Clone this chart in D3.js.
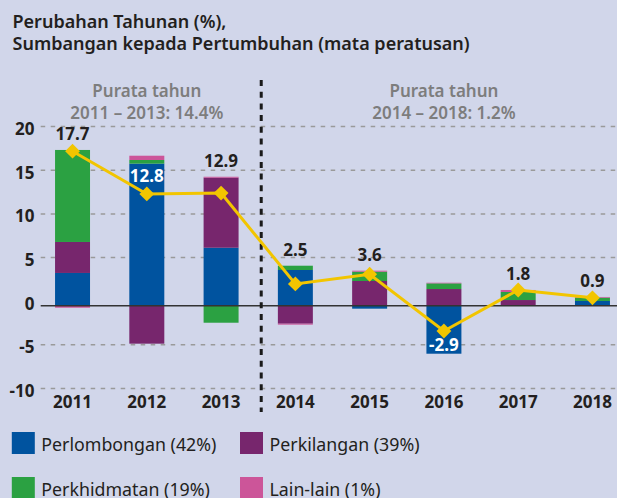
<!DOCTYPE html>
<html>
<head>
<meta charset="utf-8">
<script src="https://cdn.jsdelivr.net/npm/d3@7"></script>
<style>
  html, body { margin: 0; padding: 0; background: #d1d6ea; }
  svg { display: block; font-family: "Noto Sans", sans-serif; }
</style>
</head>
<body>
<div id="chart"></div>
<script>
// data section
const years = ['2011', '2012', '2013', '2014', '2015', '2016', '2017', '2018'];
const perlombongan = [3.75, 16.27, 6.64, 4.09, -0.34, -5.5, 0, 0.54];
const perkilangan = [3.55, -4.35, 8.02, -2.06, 2.83, 1.91, 0.65, 0];
const perkhidmatan = [10.54, 0.42, -1.95, 0.49, 1.07, 0.65, 0.92, 0.38];
const lainLain = [-0.23, 0.49, 0.11, -0.11, 0.11, 0.07, 0.23, 0.08];
const growth = [17.7, 12.8, 12.9, 2.5, 3.6, -2.9, 1.8, 0.9];
const growthText = ['17.7', '12.8', '12.9', '2.5', '3.6', '-2.9', '1.8', '0.9'];
const whiteLabels = ['2012', '2016'];
const yTicks = [20, 15, 10, 5, 0, -5, -10];
const seriesKeys = ['perlombongan', 'perkilangan', 'perkhidmatan', 'lainLain'];
const seriesNames = ['Perlombongan (42%)', 'Perkilangan (39%)', 'Perkhidmatan (19%)', 'Lain-lain (1%)'];
const seriesColors = ['#00539f', '#77266d', '#2ba142', '#cc5599'];
const periodTitles = [['Purata tahun', '2011 \u2013 2013: 14.4%'], ['Purata tahun', '2014 \u2013 2018: 1.2%']];
const periodYears = [['2011', '2013'], ['2014', '2018']];

const width = 617;
const height = 498;

const rows = years.map((y, i) => ({
    year: y,
    perlombongan: perlombongan[i],
    perkilangan: perkilangan[i],
    perkhidmatan: perkhidmatan[i],
    lainLain: lainLain[i]
}));

// scales
const x = d3.scaleBand()
      .domain(years)
      .range([35.4, 629.6])
      .paddingInner(0.529)
      .paddingOuter(0.2645);

const y = d3.scaleLinear()
      .domain([-10, 20])
      .range([393, 131.1]);

const color = d3.scaleOrdinal().domain(seriesKeys).range(seriesColors);

const stack = d3.stack()
      .keys(seriesKeys)
      .offset(d3.stackOffsetDiverging);
const stacked = stack(rows);

const svg = d3.select('#chart')
      .append('svg')
      .attr('width', width)
      .attr('height', height)
      .attr('viewBox', [0, 0, width, height]);

// title
const title = svg.append('text')
      .attr('x', 12.5)
      .attr('fill', '#231f20')
      .attr('font-size', 18)
      .attr('font-weight', 600);
title.append('tspan').attr('x', 12.5).attr('y', 28).text('Perubahan Tahunan (%),');
title.append('tspan').attr('x', 12.5).attr('y', 50).text('Sumbangan kepada Pertumbuhan (mata peratusan)');

// grid (the dashed lines sit a few px above their values in the original)
const gridShift = -4.5;
svg.append('g')
    .selectAll('line')
    .data(yTicks.filter(d => d !== 0))
    .join('line')
    .attr('x1', 40.7)
    .attr('x2', width)
    .attr('y1', d => y(d) + gridShift)
    .attr('y2', d => y(d) + gridShift)
    .attr('stroke', '#9a9a9a')
    .attr('stroke-width', 1.5)
    .attr('stroke-dasharray', '4.5,5.5');

svg.append('g')
    .selectAll('text')
    .data(yTicks)
    .join('text')
    .attr('x', 34.5)
    .attr('y', d => y(d) - 2)
    .attr('dy', '0.35em')
    .attr('text-anchor', 'end')
    .attr('font-size', 17)
    .attr('font-weight', 700)
    .attr('fill', '#231f20')
    .text(d => d);

// bars
svg.append('g')
    .selectAll('g')
    .data(stacked)
    .join('g')
    .attr('fill', d => color(d.key))
    .selectAll('rect')
    .data(d => d)
    .join('rect')
    .attr('x', d => x(d.data.year))
    .attr('width', x.bandwidth())
    .attr('y', d => y(Math.max(d[0], d[1])))
    .attr('height', d => Math.abs(y(d[0]) - y(d[1])));

// zero line
svg.append('line')
    .attr('x1', 40.7)
    .attr('x2', width)
    .attr('y1', y(0))
    .attr('y2', y(0))
    .attr('stroke', '#333')
    .attr('stroke-width', 1.5);

// period divider
const divX = x('2014') - (x.step() - x.bandwidth()) / 2 + 3;
svg.append('line')
    .attr('x1', divX)
    .attr('x2', divX)
    .attr('y1', 80)
    .attr('y2', 412)
    .attr('stroke', '#1a1a1a')
    .attr('stroke-width', 3)
    .attr('stroke-dasharray', '6,5.7');

// period headers
periodTitles.forEach((lines, i) => {
    const [a, b] = periodYears[i];
    const cx = (x(a) + x(b) + x.bandwidth()) / 2;
    const t = svg.append('text')
          .attr('text-anchor', 'middle')
          .attr('fill', '#7d7d7d')
          .attr('font-size', 17)
          .attr('font-weight', 600);
    t.append('tspan').attr('x', cx).attr('y', 97).text(lines[0]);
    t.append('tspan').attr('x', cx).attr('y', 119).text(lines[1]);
});

// growth line
const cx = d => x(d) + x.bandwidth() / 2;
const line = d3.line()
      .x((d, i) => cx(years[i]))
      .y(d => y(d));

svg.append('path')
    .datum(growth)
    .attr('fill', 'none')
    .attr('stroke', '#f2c500')
    .attr('stroke-width', 3)
    .attr('d', line);

svg.append('g')
    .selectAll('path')
    .data(growth)
    .join('path')
    .attr('d', d3.symbol(d3.symbolSquare, 110))
    .attr('transform', (d, i) => `translate(${cx(years[i])},${y(d)}) rotate(45)`)
    .attr('fill', '#f2c500');

// value labels
const barTop = years.map((yr, i) => {
    const top = d3.max(stacked, s => s[i][1]);
    return y(Math.max(0, top));
});
const barBottom = years.map((yr, i) => y(d3.min(stacked, s => s[i][0])));

svg.append('g')
    .selectAll('text')
    .data(growth)
    .join('text')
    .attr('x', (d, i) => cx(years[i]))
    .attr('y', (d, i) => {
        if (whiteLabels.includes(years[i])) {
            return d < 0 ? barBottom[i] - 3 : y(d) - 12;
        }
        return Math.min(barTop[i] - 10, y(d) - 8);
    })
    .attr('text-anchor', 'middle')
    .attr('font-size', 17)
    .attr('font-weight', 700)
    .attr('fill', (d, i) => whiteLabels.includes(years[i]) ? '#fff' : '#231f20')
    .text((d, i) => growthText[i]);

// year labels
svg.append('g')
    .selectAll('text')
    .data(years)
    .join('text')
    .attr('x', d => cx(d))
    .attr('y', 408.3)
    .attr('text-anchor', 'middle')
    .attr('font-size', 17)
    .attr('font-weight', 700)
    .attr('fill', '#231f20')
    .text(d => d);

// legend
const legendCols = [11.8, 240];
const legendRows = [432, 477];
const legendG = svg.append('g')
      .selectAll('g')
      .data(seriesKeys)
      .join('g')
      .attr('transform', (d, i) => `translate(${legendCols[i % 2]},${legendRows[Math.floor(i / 2)]})`);

legendG.append('rect')
    .attr('width', 23)
    .attr('height', 22)
    .attr('fill', d => color(d));

legendG.append('text')
    .attr('x', 29.5)
    .attr('y', 18.5)
    .attr('font-size', 17.8)
    .attr('fill', '#231f20')
    .text((d, i) => seriesNames[i]);
</script>
</body>
</html>
